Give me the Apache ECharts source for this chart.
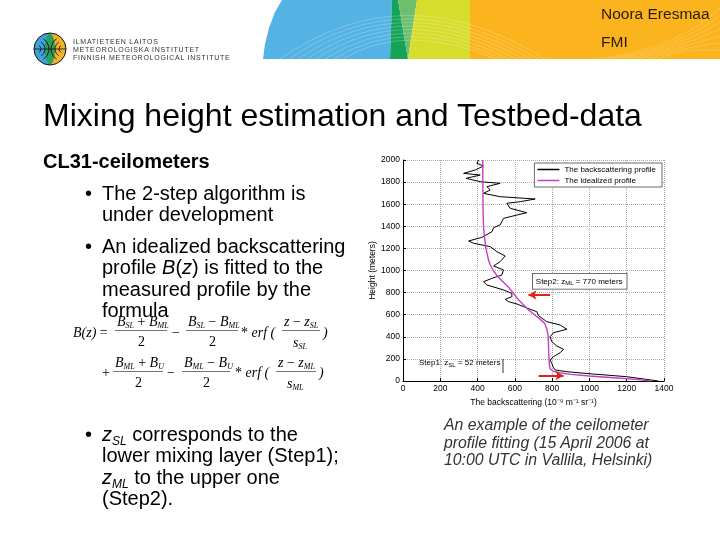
<!DOCTYPE html>
<html>
<head>
<meta charset="utf-8">
<title>Mixing height estimation and Testbed-data</title>
<script src="https://cdn.jsdelivr.net/npm/echarts@6/dist/echarts.min.js"></script>
<style>
  body { margin: 0; width: 720px; height: 540px; position: relative; overflow: hidden; background: #fff;
         font-family: "Liberation Sans", Arial, sans-serif; color: #000; }
  #chart { position: absolute; left: 0; top: 0; width: 720px; height: 540px; }
  .t { position: absolute; white-space: nowrap; }
  .logo { font-size: 7px; letter-spacing: 0.75px; color: #333; line-height: 8px; }
  .title { font-size: 32px; line-height: 32px; left: 43px; top: 99px; }
  .sub { font-size: 20px; line-height: 20px; font-weight: bold; left: 43px; top: 151px; }
  .bl { font-size: 20px; line-height: 21.4px; left: 102px; }
  .dot { position: absolute; left: -17px; }
  .sb { font-size: 12px; position: relative; top: 4px; line-height: 0; }
  .cap { font-size: 15.8px; line-height: 17.5px; font-style: italic; color: #333; left: 444px; top: 416px; }
  .m { position: absolute; white-space: nowrap; font-family: "Liberation Serif", "Times New Roman", serif;
       font-style: italic; font-size: 14px; line-height: 14px; }
  .m sub { font-size: 8px; vertical-align: -2px; line-height: 0; }
  .u { font-style: normal; }
  .bar { position: absolute; height: 0; border-top: 1px solid #777; }
</style>
</head>
<body>
<div id="chart"></div>

<!-- header texts -->
<div class="t logo" style="left:73px; top:38px;">ILMATIETEEN LAITOS<br>METEOROLOGISKA INSTITUTET<br>FINNISH METEOROLOGICAL INSTITUTE</div>
<div class="t" style="left:601px; top:5px; font-size:15.5px; color:#2a1a10;">Noora Eresmaa</div>
<div class="t" style="left:601px; top:33px; font-size:15.5px; color:#2a1a10;">FMI</div>

<!-- slide texts -->
<div class="t title">Mixing height estimation and Testbed-data</div>
<div class="t sub">CL31-ceilometers</div>
<div class="t bl" style="top:183px;"><span class="dot">•</span>The 2-step algorithm is<br>under development</div>
<div class="t bl" style="top:236px;"><span class="dot">•</span>An idealized backscattering<br>profile <i>B</i>(<i>z</i>) is fitted to the<br>measured profile by the<br>formula</div>
<div class="t bl" style="top:424px;"><span class="dot">•</span><i>z<span class="sb">SL</span></i> corresponds to the<br>lower mixing layer (Step1);<br><i>z<span class="sb">ML</span></i> to the upper one<br>(Step2).</div>
<div class="t cap">An example of the ceilometer<br>profile fitting (15 April 2006 at<br>10:00 UTC in Vallila, Helsinki)</div>

<!-- formula -->
<div class="m" style="left:73px; top:326px;">B(z) <span class="u">=</span></div>
<div class="m" style="left:117px; top:315px;">B<sub>SL</sub> <span class="u">+</span> B<sub>ML</sub></div>
<div class="bar" style="left:115px; top:330px; width:52px;"></div>
<div class="m u" style="left:138px; top:335px;">2</div>
<div class="m u" style="left:172px; top:326px;">−</div>
<div class="m" style="left:188px; top:315px;">B<sub>SL</sub> <span class="u">−</span> B<sub>ML</sub></div>
<div class="bar" style="left:186px; top:330px; width:52px;"></div>
<div class="m u" style="left:209px; top:335px;">2</div>
<div class="m" style="left:241px; top:326px;"><span class="u">*</span> erf (</div>
<div class="m" style="left:284px; top:315px;">z <span class="u">−</span> z<sub>SL</sub></div>
<div class="bar" style="left:282px; top:330px; width:38px;"></div>
<div class="m" style="left:293px; top:336px;">s<sub>SL</sub></div>
<div class="m" style="left:323px; top:326px;">)</div>

<div class="m u" style="left:102px; top:366px;">+</div>
<div class="m" style="left:115px; top:356px;">B<sub>ML</sub> <span class="u">+</span> B<sub>U</sub></div>
<div class="bar" style="left:113px; top:371px; width:50px;"></div>
<div class="m u" style="left:135px; top:376px;">2</div>
<div class="m u" style="left:167px; top:366px;">−</div>
<div class="m" style="left:184px; top:356px;">B<sub>ML</sub> <span class="u">−</span> B<sub>U</sub></div>
<div class="bar" style="left:182px; top:371px; width:48px;"></div>
<div class="m u" style="left:203px; top:376px;">2</div>
<div class="m" style="left:235px; top:366px;"><span class="u">*</span> erf (</div>
<div class="m" style="left:278px; top:356px;">z <span class="u">−</span> z<sub>ML</sub></div>
<div class="bar" style="left:276px; top:371px; width:40px;"></div>
<div class="m" style="left:287px; top:377px;">s<sub>ML</sub></div>
<div class="m" style="left:319px; top:366px;">)</div>

<script>
// measured backscattering profile (x = backscattering, h = height in meters)
const measuredX = [1370, 1200, 1021, 879, 816, 804, 798, 789, 807, 843, 861, 825, 798, 789, 807, 879,
  843, 771, 727, 718, 682, 646, 611, 566, 548, 584, 584, 539, 450, 432, 477, 530, 539, 486, 521, 548,
  504, 468, 379, 352, 423, 477, 486, 521, 539, 611, 664, 575, 557, 629, 709, 521, 432, 468, 450, 521,
  414, 339, 414, 325, 388, 432, 396, 405];
const measuredH = [0, 39, 63, 84, 100, 130, 160, 190, 220, 256, 287, 317, 356, 401, 437, 468,
  507, 537, 591, 627, 649, 673, 697, 718, 739, 763, 793, 824, 869, 899, 929, 959, 1005, 1041, 1080, 1131,
  1170, 1216, 1246, 1267, 1300, 1351, 1388, 1412, 1472, 1502, 1523, 1563, 1608, 1623, 1647, 1668, 1698, 1729, 1759, 1789,
  1804, 1834, 1864, 1879, 1910, 1946, 1970, 2000];

// idealized (fitted) profile
const idealX = [1330, 1250, 1130, 1000, 900, 840, 805, 790, 785, 782, 780, 778, 770, 760, 735, 705,
  670, 640, 612, 590, 565, 535, 505, 485, 468, 458, 445, 437, 432, 429, 428];
const idealH = [0, 15, 30, 45, 60, 75, 90, 110, 150, 250, 350, 420, 480, 520, 560, 600,
  650, 700, 750, 800, 850, 900, 950, 1000, 1050, 1100, 1200, 1300, 1400, 1600, 2000];

// red arrows marking the two layer heights
const arrowStep2 = [[789, 778], [673, 778]];
const arrowStep1 = [[727, 48], [861, 48]];

const seriesNames = ['The backscattering profile', 'The idealized profile'];

const chart = echarts.init(document.getElementById('chart'));

// header decoration (coloured bands of the slide template)
const header = [
  { type: 'polygon', shape: { points: [[282, 0], [392, 0], [390, 59], [263, 59], [265, 44], [269, 28], [275, 12]] }, style: { fill: '#55B2E5' } },
  { type: 'polygon', shape: { points: [[392, 0], [398, 0], [408, 59], [390, 59]] }, style: { fill: '#14A358' } },
  { type: 'polygon', shape: { points: [[398, 0], [417, 0], [408, 59]] }, style: { fill: '#6DBF6E' } },
  { type: 'polygon', shape: { points: [[417, 0], [470, 0], [470, 59], [408, 59]] }, style: { fill: '#D6DD2B' } },
  { type: 'rect', shape: { x: 470, y: 0, width: 250, height: 59 }, style: { fill: '#FBB41D' } }
];
for (let i = 0; i < 8; i++) {
  header.push({
    type: 'bezierCurve',
    shape: { x1: 280 + i * 9, y1: 59, x2: 545 - i * 7, y2: 59, cpx1: 405, cpy1: -28 + i * 7 },
    style: { stroke: 'rgba(255,255,255,0.4)', lineWidth: 0.6, fill: null }
  });
}
for (let i = 0; i < 7; i++) {
  header.push({
    type: 'bezierCurve',
    shape: { x1: 598 + i * 10, y1: 59, x2: 720, y2: 8 + i * 7, cpx1: 680, cpy1: 48 },
    style: { stroke: 'rgba(255,255,255,0.35)', lineWidth: 0.6, fill: null }
  });
}

// FMI logo
const logo = [
  { type: 'sector', shape: { cx: 50, cy: 49, r: 16, startAngle: Math.PI / 2, endAngle: Math.PI * 1.5 }, style: { fill: '#3FA2DB' } },
  { type: 'sector', shape: { cx: 50, cy: 49, r: 16, startAngle: -Math.PI / 2, endAngle: Math.PI / 2 }, style: { fill: '#F2B22C' } },
  { type: 'ellipse', shape: { cx: 50, cy: 49, rx: 5, ry: 15.5 }, style: { fill: '#2E9E5B' } },
  { type: 'circle', shape: { cx: 50, cy: 49, r: 16 }, style: { fill: null, stroke: '#111', lineWidth: 1 } },
  { type: 'line', shape: { x1: 34, y1: 49, x2: 66, y2: 49 }, style: { stroke: '#111', lineWidth: 0.8 } }
];
[4, 8, 12].forEach(function (r) {
  logo.push({ type: 'arc', shape: { cx: 37, cy: 49, r: r, startAngle: -1.0, endAngle: 1.0 }, style: { stroke: '#111', lineWidth: 0.9, fill: null } });
  logo.push({ type: 'arc', shape: { cx: 63, cy: 49, r: r, startAngle: Math.PI - 1.0, endAngle: Math.PI + 1.0 }, style: { stroke: '#111', lineWidth: 0.9, fill: null } });
});

// annotations inside the plot
const notes = [
  {
    type: 'text', left: 532, top: 273, z: 10,
    style: {
      text: '{a|Step2: z}{s|ML}{a| = 770 meters}',
      rich: { a: { fontSize: 8, fill: '#000' }, s: { fontSize: 6, fill: '#000', padding: [5, 0, 0, 0] } },
      backgroundColor: '#fff', borderColor: '#444', borderWidth: 0.8, padding: [2, 4, 2, 3]
    }
  },
  {
    type: 'text', left: 419, top: 359, z: 10,
    style: {
      text: '{a|Step1: z}{s|SL}{a| = 52 meters}',
      rich: { a: { fontSize: 8, fill: '#000' }, s: { fontSize: 6, fill: '#000', padding: [5, 0, 0, 0] } }
    }
  },
  { type: 'line', z: 10, shape: { x1: 503, y1: 359, x2: 503, y2: 373 }, style: { stroke: '#000', lineWidth: 0.8 } }
];

// plain tick labels, no thousands separator
function plain(v) { return String(v); }

const option = {
  animation: false,
  textStyle: { fontFamily: '"Liberation Sans", Arial, sans-serif' },
  graphic: header.concat(logo, notes),
  grid: { left: 403, right: 56, top: 160, bottom: 159 },
  legend: {
    data: seriesNames,
    orient: 'vertical',
    top: 163,
    right: 58,
    backgroundColor: '#fff',
    borderColor: '#444',
    borderWidth: 0.8,
    padding: [2, 6, 2, 3],
    itemGap: 2,
    icon: 'rect',
    itemWidth: 22,
    itemHeight: 1.5,
    textStyle: { fontSize: 8, color: '#000', lineHeight: 9 }
  },
  xAxis: {
    type: 'value',
    min: 0,
    max: 1400,
    interval: 200,
    name: 'The backscattering (10⁻⁹ m⁻¹ sr⁻¹)',
    nameLocation: 'middle',
    nameGap: 17,
    nameTextStyle: { fontSize: 8.5, color: '#000' },
    axisLine: { lineStyle: { color: '#000', width: 1 } },
    axisTick: { inside: true, length: 3, lineStyle: { color: '#000' } },
    axisLabel: { fontSize: 8.5, color: '#000', margin: 3, formatter: plain },
    splitLine: { lineStyle: { color: '#aaa', type: 'dotted', width: 1 } }
  },
  yAxis: {
    type: 'value',
    min: 0,
    max: 2000,
    interval: 200,
    name: 'Height (meters)',
    nameLocation: 'middle',
    nameGap: 22,
    nameTextStyle: { fontSize: 8.5, color: '#000' },
    axisLine: { show: true, lineStyle: { color: '#000', width: 1 } },
    axisTick: { show: true, inside: true, length: 3, lineStyle: { color: '#000' } },
    axisLabel: { fontSize: 8.5, color: '#000', margin: 3, formatter: plain },
    splitLine: { lineStyle: { color: '#aaa', type: 'dotted', width: 1 } }
  },
  series: [
    {
      name: seriesNames[0],
      type: 'line',
      symbol: 'none',
      color: '#000',
      lineStyle: { width: 1 },
      data: measuredX.map(function (x, i) { return [x, measuredH[i]]; })
    },
    {
      name: seriesNames[1],
      type: 'line',
      symbol: 'none',
      color: '#C63CC6',
      lineStyle: { width: 1.4 },
      data: idealX.map(function (x, i) { return [x, idealH[i]]; })
    },
    {
      name: 'arrows',
      type: 'line',
      data: [],
      markLine: {
        silent: true,
        symbol: ['none', 'arrow'],
        symbolSize: [7, 8],
        label: { show: false },
        lineStyle: { color: '#E3231B', width: 2, type: 'solid' },
        data: [
          [{ coord: arrowStep2[0] }, { coord: arrowStep2[1] }],
          [{ coord: arrowStep1[0] }, { coord: arrowStep1[1] }]
        ]
      }
    }
  ]
};

chart.setOption(option);
</script>
</body>
</html>
